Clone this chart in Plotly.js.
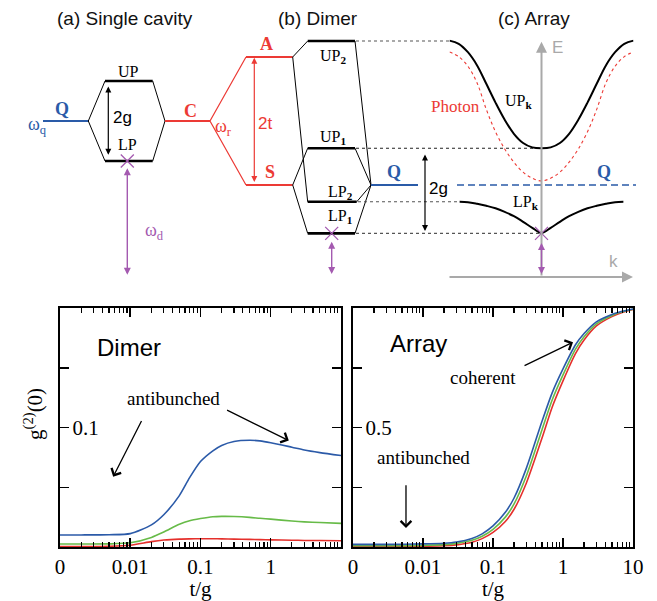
<!DOCTYPE html>
<html><head><meta charset="utf-8">
<script src="https://cdn.plot.ly/plotly-3.0.1.min.js"></script>
<style>html,body{margin:0;padding:0;background:#fff}#chart{width:657px;height:601px}</style>
</head><body><div id="chart"></div>
<script>
// ---------- bottom panels: g2(0) vs t/g ----------
const tDimer = [0.001, 0.002, 0.005, 0.01, 0.02, 0.03, 0.05, 0.07, 0.1, 0.15, 0.2, 0.3, 0.5, 0.7, 1, 2, 3, 5, 10];
const dimerBlue  = [0.0101, 0.0101, 0.0103, 0.0112, 0.0185, 0.027, 0.043, 0.058, 0.0715, 0.0805, 0.0850, 0.0883, 0.0893, 0.0888, 0.0873, 0.0835, 0.0812, 0.079, 0.0765];
const dimerGreen = [0.0025, 0.0025, 0.0026, 0.0035, 0.008, 0.0125, 0.019, 0.022, 0.0238, 0.0253, 0.0256, 0.0255, 0.0248, 0.024, 0.0233, 0.0217, 0.021, 0.0205, 0.0198];
const dimerRed   = [0.0004, 0.0004, 0.0006, 0.0015, 0.0045, 0.0058, 0.0066, 0.0068, 0.0069, 0.0069, 0.0068, 0.0066, 0.0064, 0.0062, 0.006, 0.0057, 0.0055, 0.0054, 0.0052];

const tArray = [0.001, 0.003, 0.01, 0.02, 0.03, 0.05, 0.07, 0.1, 0.15, 0.2, 0.3, 0.5, 0.7, 1, 1.5, 2, 3, 5, 7, 10];
const arrayBlue  = [0.011, 0.011, 0.013, 0.016, 0.021, 0.036, 0.055, 0.088, 0.145, 0.205, 0.33, 0.525, 0.645, 0.745, 0.845, 0.893, 0.942, 0.973, 0.986, 0.996];
const arrayGreen = [0.005, 0.005, 0.007, 0.010, 0.015, 0.028, 0.045, 0.074, 0.125, 0.18, 0.298, 0.49, 0.615, 0.72, 0.827, 0.88, 0.934, 0.969, 0.984, 0.995];
const arrayRed   = [0.002, 0.002, 0.003, 0.005, 0.009, 0.020, 0.035, 0.061, 0.107, 0.158, 0.268, 0.455, 0.585, 0.695, 0.808, 0.866, 0.925, 0.964, 0.981, 0.994];

const xTickValsLeft  = [0.001, 0.01, 0.1, 1];
const xTickTextLeft  = ['0', '0.01', '0.1', '1'];
const xTickValsRight = [0.001, 0.01, 0.1, 1, 10];
const xTickTextRight = ['0', '0.01', '0.1', '1', '10'];
const dimerYLabelVal = [0.1], dimerYLabel = ['0.1'], dimerYOther = [0.05, 0.15];
const arrayYLabelVal = [0.5], arrayYLabel = ['0.5'], arrayYOther = [0.25, 0.75];

// ---------- top schematic: energy levels (units of g, omega_r = 0) ----------
const cavityQ = 0, cavityC = 0, cavityUP = 1.0, cavityLP = -1.0;
const modeA = 1.6, modeS = -1.6;
const dimerQ = -1.6;
const dimerNames  = ['UP2', 'UP1', 'LP2', 'LP1'];
const dimerEnergy = [2.0, -0.68, -2.02, -2.81];
// band dispersions, k in units of pi
const kGrid   = [-1, -0.9, -0.8, -0.7, -0.6, -0.5, -0.4, -0.3, -0.2, -0.1, 0, 0.1, 0.2, 0.3, 0.4, 0.5, 0.6, 0.7, 0.8, 0.9, 1];
const photonE = [1.725, 1.61, 1.37, 0.95, 0.29, -0.27, -0.70, -1.03, -1.28, -1.43, -1.5, -1.43, -1.28, -1.03, -0.70, -0.27, 0.29, 0.95, 1.37, 1.61, 1.725];
const upE     = [2.01, 1.93, 1.72, 1.39, 0.93, 0.46, 0.03, -0.32, -0.55, -0.66, -0.68, -0.66, -0.55, -0.32, 0.03, 0.46, 0.93, 1.39, 1.72, 1.93, 2.01];
const kLP     = [-0.89, -0.8, -0.7, -0.6, -0.5, -0.4, -0.3, -0.2, -0.1, 0, 0.1, 0.2, 0.3, 0.4, 0.5, 0.6, 0.7, 0.8, 0.89];
const lpE     = [-2.02, -2.03, -2.07, -2.12, -2.18, -2.27, -2.38, -2.52, -2.67, -2.80, -2.67, -2.52, -2.38, -2.27, -2.18, -2.12, -2.07, -2.03, -2.02];

// ---------- styles ----------
const BLUE = '#2b5aa8', GREEN = '#67bb48', RED = '#e5302c';
const SBLUE = '#2a5ba8', SRED = '#ec3a35', PURPLE = '#a45ab0', GRAY = '#a9a9a9', DGRAY = '#555555';
const SERIF = 'Liberation Serif, Times New Roman, serif';
const SANS = 'Liberation Sans, Arial, Helvetica, sans-serif';

const traces = [];
function curve(x, y, color, xa, ya) {
  traces.push({x, y, mode: 'lines', line: {color, width: 1.6, shape: 'spline', smoothing: 0.7},
    xaxis: xa, yaxis: ya, hoverinfo: 'skip', showlegend: false});
}
curve(tDimer, dimerRed, RED, 'x', 'y');
curve(tDimer, dimerGreen, GREEN, 'x', 'y');
curve(tDimer, dimerBlue, BLUE, 'x', 'y');
curve(tArray, arrayRed, RED, 'x2', 'y2');
curve(tArray, arrayGreen, GREEN, 'x2', 'y2');
curve(tArray, arrayBlue, BLUE, 'x2', 'y2');

function seg(x, y, color, width, dash, xa) {
  traces.push({x, y, mode: 'lines', line: {color, width, dash: dash || 'solid'},
    xaxis: xa || 'x3', yaxis: 'y3', hoverinfo: 'skip', showlegend: false});
}
// single cavity (horizontal positions in diagram units)
seg([43, 88.3], [cavityQ, cavityQ], SBLUE, 2.2);
seg([105, 88.3, 105], [cavityUP, cavityQ, cavityLP], '#000', 1);
seg([152.7, 165, 152.7], [cavityUP, cavityC, cavityLP], '#000', 1);
seg([105, 152.7], [cavityUP, cavityUP], '#000', 2.6);
seg([105, 152.7], [cavityLP, cavityLP], '#000', 2.6);
seg([165, 210], [cavityC, cavityC], SRED, 2.2);
seg([246, 210, 246], [modeA, cavityC, modeS], SRED, 1.2);
seg([246, 292.7], [modeA, modeA], SRED, 2.2);
seg([246, 292.7], [modeS, modeS], SRED, 2.2);
// dimer
const [eUP2, eUP1, eLP2, eLP1] = dimerEnergy;
seg([307.7, 292.7, 307.7], [eUP2, modeA, eLP2], '#000', 1);
seg([307.7, 292.7, 307.7], [eUP1, modeS, eLP1], '#000', 1);
dimerEnergy.forEach((e, i) => {
  const xr = dimerNames[i] === 'LP2' ? 356.7 : 355;
  seg([307.7, xr], [e, e], '#000', 2.6);
  seg([xr, 371], [e, dimerQ], '#000', 1);
});
seg([371, 418], [dimerQ, dimerQ], SBLUE, 2.2);
seg([356, 450], [eUP2, eUP2], DGRAY, 1.1, '3px,3px');
seg([356, 541.5], [eUP1, eUP1], '#222', 1.1, '3px,3px');
seg([358, 460], [eLP2, eLP2], DGRAY, 1.1, '3px,3px');
seg([356, 541.5], [eLP1, eLP1], DGRAY, 1.1, '3px,3px');
seg([457, 636], [dimerQ, dimerQ], SBLUE, 1.5, '7px,4px');
// array bands
traces.push({x: kGrid, y: photonE, mode: 'lines', line: {color: SRED, width: 1.1, dash: '3px,3px', shape: 'spline'},
  xaxis: 'x4', yaxis: 'y3', hoverinfo: 'skip', showlegend: false});
traces.push({x: kGrid, y: upE, mode: 'lines', line: {color: '#000', width: 2, shape: 'spline'},
  xaxis: 'x4', yaxis: 'y3', hoverinfo: 'skip', showlegend: false});
traces.push({x: kLP, y: lpE, mode: 'lines', line: {color: '#000', width: 2, shape: 'spline'},
  xaxis: 'x4', yaxis: 'y3', hoverinfo: 'skip', showlegend: false});
// drive crosses
traces.push({x: [127.3, 331.7], y: [cavityLP, eLP1], mode: 'markers',
  marker: {symbol: 'x-thin', size: 13, line: {color: PURPLE, width: 1.3}},
  xaxis: 'x3', yaxis: 'y3', hoverinfo: 'skip', showlegend: false});
traces.push({x: [0], y: [eLP1], mode: 'markers',
  marker: {symbol: 'x-thin', size: 13, line: {color: PURPLE, width: 1.3}},
  xaxis: 'x4', yaxis: 'y3', hoverinfo: 'skip', showlegend: false});

// ---------- annotations ----------
const ann = [];
function txt(x, y, text, size, color, family, xref, yref, extra) {
  ann.push(Object.assign({x, y, text, showarrow: false, xref: xref || 'x3', yref: yref || 'y3',
    font: {size, color, family}, xanchor: 'center', yanchor: 'middle'}, extra || {}));
}
function arrow(x, y, ax, ay, color, width, both, xref, yref, head, size) {
  ann.push({x, y, ax, ay, xref: xref || 'x3', yref: yref || 'y3', axref: xref || 'x3', ayref: yref || 'y3',
    text: '', showarrow: true, arrowcolor: color, arrowwidth: width, arrowhead: head || 2,
    startarrowhead: head || 2, arrowsize: size || 1, startarrowsize: size || 1,
    arrowside: both ? 'end+start' : 'end', standoff: 0, startstandoff: 0});
}
// titles
txt(0.190, 0.970, '(a) Single cavity', 19, '#111', SANS, 'paper', 'paper');
txt(0.484, 0.970, '(b) Dimer', 19, '#111', SANS, 'paper', 'paper');
txt(0.8128, 0.970, '(c) Array', 19, '#111', SANS, 'paper', 'paper');
// single cavity labels
txt(61.7, 0.30, '<b>Q</b>', 18, SBLUE, SERIF);
txt(37, -0.12, 'ω<sub>q</sub>', 18, SBLUE, SERIF);
txt(128.3, 1.23, 'UP', 16, '#000', SERIF);
txt(127.3, -0.58, 'LP', 16, '#000', SERIF);
txt(122, 0.09, '2g', 17, '#000', SANS);
txt(190, 0.25, '<b>C</b>', 18, SRED, SERIF);
txt(223, -0.15, 'ω<sub>r</sub>', 18, SRED, SERIF);
txt(266.7, 1.93, '<b>A</b>', 18, SRED, SERIF);
txt(265, -0.07, '2t', 17, SRED, SANS);
txt(270, -1.28, '<b>S</b>', 18, SRED, SERIF);
txt(154, -2.75, 'ω<sub>d</sub>', 18, PURPLE, SERIF);
arrow(108.3, 0.86, 108.3, -0.88, '#000', 1.2, true);
arrow(254.3, 1.58, 254.3, -1.56, SRED, 1.2, true);
arrow(127.3, -1.18, 127.3, -3.88, PURPLE, 1.4, true);
// dimer labels
txt(333, 1.62, 'UP<sub><b>2</b></sub>', 16, '#000', SERIF);
txt(333, -0.40, 'UP<sub><b>1</b></sub>', 16, '#000', SERIF);
txt(340, -1.78, 'LP<sub><b>2</b></sub>', 16, '#000', SERIF);
txt(340, -2.38, 'LP<sub><b>1</b></sub>', 16, '#000', SERIF);
txt(394, -1.27, '<b>Q</b>', 18, SBLUE, SERIF);
txt(438, -1.68, '2g', 17, '#000', SANS);
arrow(425, -0.84, 425, -2.79, '#000', 1.2, true);
arrow(331.7, -3.02, 331.7, -3.86, PURPLE, 1.4, true);
// array labels
arrow(541.5, 1.98, 541.5, -3.9, GRAY, 2, false, 'x3', 'y3', 2, 1.1);
arrow(633, -3.9, 448, -3.9, GRAY, 2, false, 'x3', 'y3', 2, 1.1);
arrow(541.5, -3.05, 541.5, -3.86, PURPLE, 1.4, true);
txt(557, 1.85, 'E', 17, GRAY, SANS);
txt(613, -3.52, 'k', 17, GRAY, SANS);
txt(455, 0.36, 'Photon', 17, SRED, SERIF);
txt(518, 0.50, 'UP<sub><b>k</b></sub>', 16, '#000', SERIF);
txt(526, -2.03, 'LP<sub><b>k</b></sub>', 16, '#000', SERIF);
txt(604, -1.27, '<b>Q</b>', 18, SBLUE, SERIF);

// bottom panel labels (log axes: x given as log10 t)
txt(-2.014, 0.167, 'Dimer', 24, '#000', SANS, 'x', 'y');
txt(-1.386, 0.124, 'antibunched', 19, '#000', SERIF, 'x', 'y');
arrow(-2.243, 0.0588, -1.829, 0.1067, '#000', 1.3, false, 'x', 'y', 4, 1.6);
arrow(0.257, 0.0891, -0.643, 0.1151, '#000', 1.3, false, 'x', 'y', 4, 1.6);
txt(-2.071, 0.853, 'Array', 24, '#000', SANS, 'x2', 'y2');
txt(-1.143, 0.710, 'coherent', 19, '#000', SERIF, 'x2', 'y2');
arrow(0.143, 0.857, -0.571, 0.756, '#000', 1.3, false, 'x2', 'y2', 4, 1.6);
txt(-1.986, 0.374, 'antibunched', 19, '#000', SERIF, 'x2', 'y2');
arrow(-2.243, 0.080, -2.243, 0.265, '#000', 1.3, false, 'x2', 'y2', 4, 1.6);
txt(0.0502, 0.3111, 'g<sup>(2)</sup>(0)', 21, '#000', SERIF, 'paper', 'paper', {textangle: -90});

// minor log ticks
const minorVals = [];
for (let d = -3; d < 1; d++) for (let m = 2; m <= 9; m++) minorVals.push(m * Math.pow(10, d));

function xAxis(domain, anchor, tickvals, ticktext) {
  return {domain, anchor, type: 'log', range: [-3, 1], tickmode: 'array', tickvals, ticktext,
    ticks: 'inside', ticklen: 9, tickwidth: 1.5, tickcolor: '#000', mirror: 'ticks', showline: true,
    linecolor: '#000', linewidth: 2, showgrid: false, zeroline: false,
    tickfont: {family: SERIF, size: 21, color: '#000'},
    minor: {tickmode: 'array', tickvals: minorVals, ticks: 'inside', ticklen: 5, tickwidth: 1.2, tickcolor: '#000', showgrid: false},
    title: {text: 't/g', font: {family: SERIF, size: 21, color: '#000'}, standoff: 2}, automargin: false};
}
function yAxis(domain, anchor, range, vals, text, other) {
  return {domain, anchor, range, tickmode: 'array', tickvals: vals, ticktext: text,
    ticks: 'inside', ticklen: 9, tickwidth: 1.5, tickcolor: '#000', mirror: 'ticks', showline: true,
    linecolor: '#000', linewidth: 2, showgrid: false, zeroline: false,
    ticklabelposition: 'outside', ticklabelstandoff: -45,
    minor: {tickmode: 'array', tickvals: other, ticks: 'inside', ticklen: 9, tickwidth: 1.5, tickcolor: '#000', showgrid: false},
    tickfont: {family: SERIF, size: 21, color: '#000'}, automargin: false};
}

const layout = {
  width: 657, height: 601, margin: {l: 0, r: 0, t: 0, b: 0},
  paper_bgcolor: '#fff', plot_bgcolor: 'rgba(0,0,0,0)', showlegend: false,
  xaxis: xAxis([0.09132, 0.51903], 'y', xTickValsLeft, xTickTextLeft),
  yaxis: yAxis([0.08985, 0.48752], 'x', [0, 0.2], dimerYLabelVal, dimerYLabel, dimerYOther),
  xaxis2: xAxis([0.53729, 0.96347], 'y2', xTickValsRight, xTickTextRight),
  yaxis2: yAxis([0.08985, 0.48752], 'x2', [0, 1], arrayYLabelVal, arrayYLabel, arrayYOther),
  xaxis3: {domain: [0, 1], range: [0, 657], visible: false, anchor: 'y3', fixedrange: true},
  yaxis3: {domain: [0.51747, 1], range: [-4.225, 3.025], visible: false, anchor: 'x3', fixedrange: true},
  xaxis4: {domain: [0.68417, 0.96423], range: [-1, 1], visible: false, anchor: 'y3', fixedrange: true},
  annotations: ann
};
Plotly.newPlot('chart', traces, layout, {staticPlot: true, displayModeBar: false});
</script></body></html>
